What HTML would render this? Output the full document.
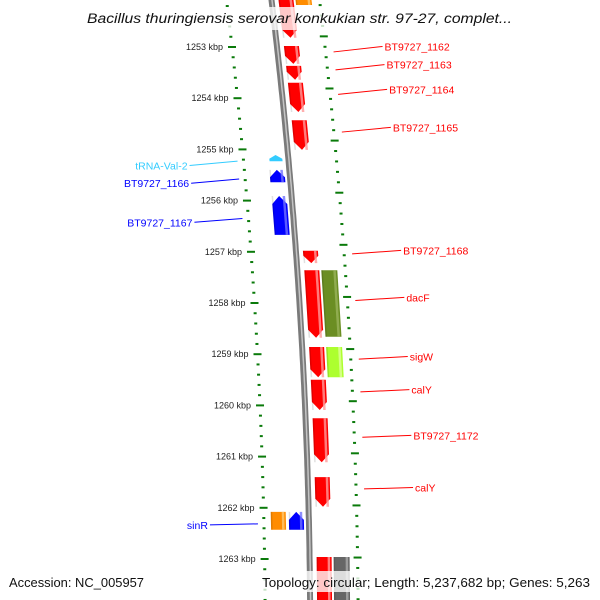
<!DOCTYPE html>
<html><head><meta charset="utf-8">
<style>
html,body{margin:0;padding:0;background:#fff;}
svg{display:block;font-family:"Liberation Sans",sans-serif;}
</style></head>
<body>
<svg id="chart" width="600" height="600" viewBox="0 0 600 600" xmlns="http://www.w3.org/2000/svg">
<g id="ticks"></g>
<g id="backbone"></g>
<g id="features"></g>
<g id="labels"></g>
<rect x="80" y="7" width="440" height="23" fill="#fff" opacity="0.78"/>
<text x="87" y="23" font-size="13.5" font-style="italic" fill="#111" textLength="425" lengthAdjust="spacingAndGlyphs">Bacillus thuringiensis serovar konkukian str. 97-27, complet...</text>
<rect x="6" y="571" width="142" height="21" fill="#fff" opacity="0.78"/>
<text x="9" y="587" font-size="12.5" fill="#111" textLength="135" lengthAdjust="spacingAndGlyphs">Accession: NC_005957</text>
<rect x="259" y="571" width="335" height="21" fill="#fff" opacity="0.78"/>
<text x="262" y="587" font-size="12.5" fill="#111" textLength="328" lengthAdjust="spacingAndGlyphs">Topology: circular; Length: 5,237,682 bp; Genes: 5,263</text>
</svg>
<script>
// ---- data ----
const majorTicksKbp = [1253,1254,1255,1256,1257,1258,1259,1260,1261,1262,1263];
const tickLabels = ["1253 kbp","1254 kbp","1255 kbp","1256 kbp","1257 kbp","1258 kbp","1259 kbp","1260 kbp","1261 kbp","1262 kbp","1263 kbp"];
const featureNames = ["top-red","top-orange","BT9727_1162","BT9727_1163","BT9727_1164","BT9727_1165","tRNA-Val-2","BT9727_1166","BT9727_1167","BT9727_1168","red-dacF","dacF","red-sigW","sigW","calY","BT9727_1172","calY-2","sinR-orange","sinR","bottom-red","bottom-gray"];
const featureStart = [1251.9,1251.9,1252.98,1253.37,1253.70,1254.43,1255.11,1255.40,1255.91,1256.98,1257.36,1257.36,1258.86,1258.86,1259.50,1260.25,1261.40,1262.08,1262.08,1262.96,1262.96];
const featureEnd   = [1252.82,1252.18,1253.33,1253.64,1254.27,1255.01,1255.23,1255.64,1256.67,1257.22,1258.68,1258.66,1259.45,1259.45,1260.09,1261.11,1261.98,1262.43,1262.43,1263.9,1263.9];
const featureStrand= [1,0,1,1,1,1,-1,-1,-1,1,1,0,1,0,1,1,1,0,-1,0,0];
const featureLane  = [1,2,1,1,1,1,-1,-1,-1,1,1,2,1,2,1,1,1,-2,-1,1,2];
const featureColor = ["#ff0000","#ff8c00","#ff0000","#ff0000","#ff0000","#ff0000","#33ccff","#0000ff","#0000ff","#ff0000","#ff0000","#6b8e23","#ff0000","#adff2f","#ff0000","#ff0000","#ff0000","#ff8c00","#0000ff","#ff0000","#666666"];
const featureHi    = ["#ff9a9a","#ffc870","#ff9a9a","#ff9a9a","#ff9a9a","#ff9a9a","#99e6ff","#7070ff","#7070ff","#ff9a9a","#ff9a9a","#9ab45a","#ff9a9a","#ddff99","#ff9a9a","#ff9a9a","#ff9a9a","#ffc870","#7070ff","#ff9a9a","#aaaaaa"];
const labelText  = ["BT9727_1162","BT9727_1163","BT9727_1164","BT9727_1165","BT9727_1168","dacF","sigW","calY","BT9727_1172","calY","tRNA-Val-2","BT9727_1166","BT9727_1167","sinR"];
const labelFeature = [2,3,4,5,9,11,13,14,15,16,6,7,8,18];
const labelColor = ["#ff0000","#ff0000","#ff0000","#ff0000","#ff0000","#ff0000","#ff0000","#ff0000","#ff0000","#ff0000","#33ccff","#0000ff","#0000ff","#0000ff"];

// ---- scales ----
const NS="http://www.w3.org/2000/svg";
function yOf(kbp){return 47+(kbp-1253)*51.2;}
function c(y){const t=y-47;return 0.112*t-9.44e-5*t*t;}
function dc(y){return 0.112-1.888e-4*(y-47);}
function bbX(y){return 277+c(y);}
function mk(tag,attrs,parent){const e=document.createElementNS(NS,tag);for(const k in attrs)e.setAttribute(k,attrs[k]);parent.appendChild(e);return e;}
const gT=document.getElementById('ticks'),gB=document.getElementById('backbone'),gF=document.getElementById('features'),gL=document.getElementById('labels');

// ticks
for(let k=1252;k<=1264;k+=0.2){
  const kk=Math.round(k*10)/10;
  const y=yOf(kk); if(y<-5||y>600)continue;
  const major=Math.abs(kk-Math.round(kk))<0.01;
  const w=major?8:3;
  const xl=232+c(y);
  const t1=mk('rect',{x:xl-w/2,y:y-1,width:w,height:2,fill:'#0a7a0a'},gT);
  
  
  const yr=y-95*dc(y);
  const xr=325+c(yr);
  const t2=mk('rect',{x:xr-w/2,y:yr-1,width:w,height:2,fill:'#0a7a0a'},gT);
  
  
}
majorTicksKbp.forEach((k,i)=>{
  const y=yOf(k);
  const t=mk('text',{x:232+c(y)-9,y:y+3,'font-size':9,fill:'#222','text-anchor':'end'},gT);
  t.textContent=tickLabels[i];
  
  
});

// backbone
let d='';for(let y=-5;y<=605;y+=5){d+=(y===-5?'M':'L')+bbX(y).toFixed(1)+','+y;}
const b1=mk('path',{d:d,stroke:'#7a7a7a','stroke-width':6,fill:'none'},gB);


let d2='';for(let y=-5;y<=605;y+=5){d2+=(y===-5?'M':'L')+(bbX(y)+0.5).toFixed(1)+','+y;}
const b2=mk('path',{d:d2,stroke:'#c4c4c4','stroke-width':1.5,fill:'none'},gB);



// features
const laneOff={1:[7,22],2:[24,40],'-1':[-20,-5],'-2':[-38,-23]};
function pts(y1,y2,a,b,strand){
  const h=Math.min(8,(y2-y1)*0.6);
  const p=[];
  if(strand===1){
    p.push([bbX(y1)+a,y1],[bbX(y1)+b,y1],[bbX(y2-h)+b,y2-h],[bbX(y2)+(a+b)/2,y2],[bbX(y2-h)+a,y2-h]);
  }else if(strand===-1){
    p.push([bbX(y1)+(a+b)/2,y1],[bbX(y1+h)+b,y1+h],[bbX(y2)+b,y2],[bbX(y2)+a,y2],[bbX(y1+h)+a,y1+h]);
  }else{
    p.push([bbX(y1)+a,y1],[bbX(y1)+b,y1],[bbX(y2)+b,y2],[bbX(y2)+a,y2]);
  }
  return p.map(q=>q[0].toFixed(1)+','+q[1].toFixed(1)).join(' ');
}
featureNames.forEach((n,i)=>{
  const y1=yOf(featureStart[i]),y2=yOf(featureEnd[i]);
  const o=laneOff[featureLane[i]];
  const g=mk('g',{},gF);
  
  
  if(n==='tRNA-Val-2'){
    mk('polygon',{points:pts(y1,y2,o[0]+1,o[1]-1,-1),fill:featureColor[i]},g);
    return;
  }
  mk('polygon',{points:pts(y1,y2,o[0],o[1],featureStrand[i]),fill:featureColor[i]},g);
  mk('polygon',{points:pts(y1,y2,o[1]-4,o[1]-1.5,featureStrand[i]===0?0:0).split(' ').slice(0,4).join(' '),fill:featureHi[i],opacity:0.8},g);
  mk('polygon',{points:pts(y1,y2,o[0],o[0]+1.5,0),fill:'#000',opacity:0.12},g);
});
// fix highlight strips to not extend past arrow body
// labels
labelText.forEach((t,i)=>{
  const f=labelFeature[i];
  const ym=(yOf(featureStart[f])+yOf(featureEnd[f]))/2;
  const right=featureLane[f]>0;
  let sx,sy,ex,ey;
  if(right){sy=ym-3;sx=325+c(sy)+8;ex=sx+49;ey=sy-49*dc(sy);}
  else{sy=ym+3;sx=232+c(sy)-6;ex=sx-48;ey=sy+48*dc(sy);}
  const l=mk('line',{x1:sx,y1:sy,x2:ex,y2:ey,stroke:labelColor[i],'stroke-width':1},gL);
  
  
  const tx=mk('text',{x:right?ex+2:ex-2,y:ey+4,'font-size':10.5,fill:labelColor[i],'text-anchor':right?'start':'end'},gL);
  tx.textContent=t;
  
  
});
</script>
</body></html>
